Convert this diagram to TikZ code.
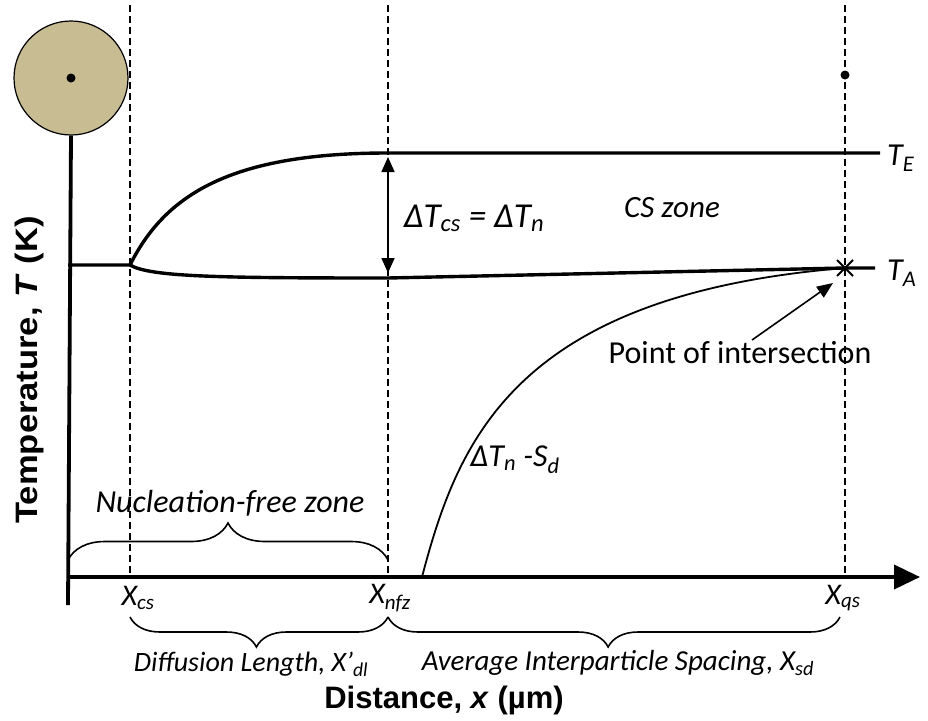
\documentclass[tikz,border=0pt]{standalone}
\usepackage{fontspec}
\setmainfont{Carlito}
\newfontfamily\arialfont{Liberation Sans}
\usetikzlibrary{arrows.meta,decorations.pathreplacing,calc}
\definecolor{sandtan}{RGB}{200,188,146}
\newcommand{\fs}[1]{\fontsize{#1}{#1}\selectfont}
\begin{document}
\begin{tikzpicture}[x=1pt,y=-1pt,
  axisline/.style={line width=3.8pt},
  curveline/.style={line width=3.4pt},
  guide/.style={line width=1.4pt,dash pattern=on 7pt off 4pt},
  bracepath/.style={decorate,line width=1.6pt},
  lbl/.style={font=\fs{31}\itshape,inner sep=0pt},
  bigaxis/.style={font=\arialfont\bfseries\fs{31},inner sep=0pt}]
\path[use as bounding box] (0,0) rectangle (928,720);
% key coordinates
\coordinate (O) at (68,577);
\coordinate (ybot) at (68,605);
\coordinate (xend) at (920,577);
\coordinate (xcs) at (130,577);
\coordinate (xnfz) at (388,577);
\coordinate (xqs) at (845,577);
\coordinate (xcsT) at (130,5);
\coordinate (xnfzT) at (388,5);
\coordinate (xqsT) at (845,5);
\coordinate (TAstart) at (68,265);
\coordinate (split) at (130,265);
\coordinate (TEflat) at (388,153);
\coordinate (TEend) at (880,153);
\coordinate (TAmid) at (388,278);
\coordinate (PI) at (845,268);
\coordinate (TAend) at (875,268);
\coordinate (Sstart) at (422,577);
% sphere
\node[circle,draw,line width=1.2pt,fill=sandtan,minimum size=114pt,inner sep=0pt] (sphere) at (71,78) {};
\fill (sphere.center) circle (4.5pt);
\coordinate (dotqs) at (845,75);
\fill (dotqs) circle (4.5pt);
% dashed guides
\draw[guide] (xcsT) -- (xcs);
\draw[guide] (xnfzT) -- (xnfz);
\draw[guide] (xqsT) -- (xqs);
% axes
\draw[axisline] (sphere.south) -- (ybot);
\draw[axisline,-{Triangle[length=26pt,width=24pt]}] (O) -- (xend);
% T_E curve
\draw[curveline] (split) .. controls (165,195) and (230,153) .. (TEflat) -- (TEend);
% T_A curve
\draw[curveline] (TAstart) -- (split) .. controls (150,277) and (220,278) .. (TAmid) -- (PI) -- (TAend);
% Delta T_n - S_d curve
\draw[line width=1.8pt] (Sstart) .. controls (458,440) and (515,295) .. (PI);
% cross
\draw[line width=1.8pt] ($(PI)+(-8,-8)$) -- ($(PI)+(8,8)$) ($(PI)+(-8,8)$) -- ($(PI)+(8,-8)$);
% double arrow
\coordinate (dA1) at (388,157);
\coordinate (dA2) at (388,273);
\draw[line width=1.6pt,{Triangle[length=15pt,width=13pt]}-{Triangle[length=15pt,width=13pt]}] (dA1) -- (dA2);
% labels
\node[lbl,anchor=west,font=\fs{32}\itshape] (TE) at (887,158) {T\textsubscript{E}};
\node[lbl,anchor=west,font=\fs{32}\itshape] (TA) at (887,273) {T\textsubscript{A}};
\node[lbl,font=\fs{35}\itshape] (dT) at (474,218) {ΔT\textsubscript{cs} = ΔT\textsubscript{n}};
\node[lbl] (cs) at (672,208) {CS zone};
\node[lbl,font=\fs{32}] (pint) at (740,353) {Point of intersection};
\coordinate (parrowS) at (752,340);
\coordinate (parrowE) at (833,283);
\draw[line width=1.6pt,-{Triangle[length=16pt,width=13pt]}] (parrowS) -- (parrowE);
\node[lbl,font=\fs{32}\itshape] (sd) at (515,460) {ΔT\textsubscript{n} -S\textsubscript{d}};
% braces
\coordinate (b1a) at (68,560);
\coordinate (b1b) at (388,560);
\draw[bracepath,decoration={brace,amplitude=37pt,aspect=0.5}] (b1a) -- (b1b);
\node[lbl,font=\fs{32}\itshape] (nfz) at (230,503) {Nucleation-free zone};
\coordinate (b2a) at (388,617);
\coordinate (b2b) at (130,617);
\draw[bracepath,decoration={brace,amplitude=30pt,aspect=0.51}] (b2a) -- (b2b);
\coordinate (b3a) at (840,617);
\coordinate (b3b) at (388,617);
\draw[bracepath,decoration={brace,amplitude=30pt,aspect=0.513}] (b3a) -- (b3b);
\node[lbl,font=\fs{28}\itshape] (dl) at (251,664) {Diffusion Length, X'\textsubscript{dl}};
\node[lbl,font=\fs{29}\itshape] (ais) at (618,663) {Average Interparticle Spacing, X\textsubscript{sd}};
\node[lbl,font=\fs{30}\itshape] (lcs) at (138,598) {X\textsubscript{cs}};
\node[lbl,font=\fs{30}\itshape] (lnfz) at (390,598) {X\textsubscript{nfz}};
\node[lbl,font=\fs{30}\itshape] (lqs) at (843,598) {X\textsubscript{qs}};
% axis titles
\node[bigaxis] (xlab) at (444,700) {Distance, \textit{x} (µm)};
\node[bigaxis,rotate=90] (ylab) at (29,370) {\scalebox{1.115}[1]{Temperature, \textit{T} (K)}};
\end{tikzpicture}
\end{document}
